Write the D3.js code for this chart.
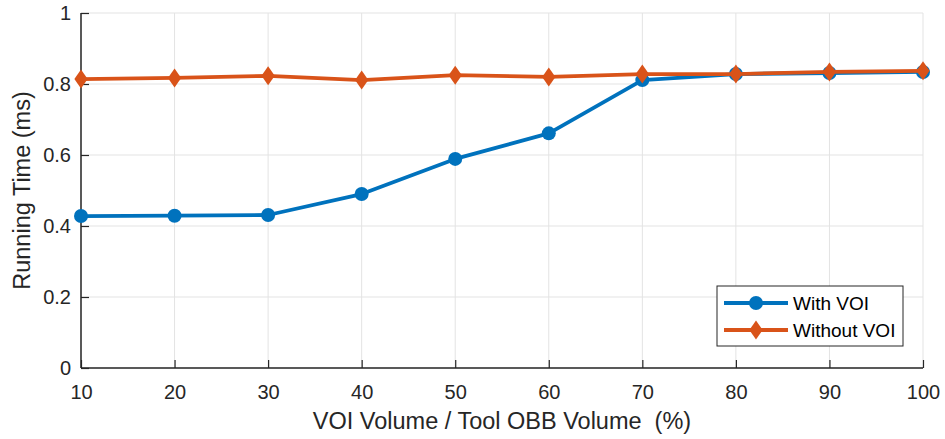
<!DOCTYPE html>
<html>
<head>
<meta charset="utf-8">
<script src="https://cdn.jsdelivr.net/npm/d3@7"></script>
<style>
  html, body { margin: 0; padding: 0; background: #fff; }
  svg { display: block; font-family: "Liberation Sans", Arial, Helvetica, sans-serif; }
</style>
</head>
<body>
<svg id="chart" width="945" height="439"></svg>
<script>
// Data
const ratios = [10, 20, 30, 40, 50, 60, 70, 80, 90, 100];
const withVOI = [0.428, 0.429, 0.431, 0.490, 0.589, 0.661, 0.811, 0.828, 0.831, 0.834];
const withoutVOI = [0.814, 0.817, 0.823, 0.811, 0.825, 0.820, 0.828, 0.828, 0.834, 0.837];
const xTicks = [10, 20, 30, 40, 50, 60, 70, 80, 90, 100];
const yTicks = [0, 0.2, 0.4, 0.6, 0.8, 1];
const seriesNames = ["With VOI", "Without VOI"];
const seriesColors = ["#0072BD", "#D95319"];

const svg = d3.select("#chart");
const m = { left: 81, right: 22, top: 13, bottom: 71 };
const W = 945, H = 439;
const x = d3.scaleLinear().domain([10, 100]).range([m.left, W - m.right]);
const y = d3.scaleLinear().domain([0, 1]).range([H - m.bottom, m.top]);

// Grid
const grid = svg.append("g");
grid.selectAll(".gx").data(xTicks).join("line")
  .attr("x1", d => x(d)).attr("x2", d => x(d))
  .attr("y1", y(0)).attr("y2", y(1))
  .attr("stroke", "#e3e3e3").attr("stroke-width", 1);
grid.selectAll(".gy").data(yTicks).join("line")
  .attr("x1", x(10)).attr("x2", x(100))
  .attr("y1", d => y(d)).attr("y2", d => y(d))
  .attr("stroke", "#e3e3e3").attr("stroke-width", 1);

// Axes
const xAxis = d3.axisBottom(x).tickValues(xTicks).tickSize(-8).tickPadding(17).tickFormat(d3.format("d"));
const yAxis = d3.axisLeft(y).tickValues(yTicks).tickSize(-8).tickPadding(10)
  .tickFormat(d => d === 0 || d === 1 ? String(d) : d3.format(".1f")(d));

const gx = svg.append("g").attr("transform", `translate(0,${y(0)})`).call(xAxis);
const gy = svg.append("g").attr("transform", `translate(${x(10)},0)`).call(yAxis);
[gx, gy].forEach(g => {
  g.select(".domain").attr("stroke", "#262626").attr("stroke-width", 1.5);
  g.selectAll(".tick line").attr("stroke", "#262626").attr("stroke-width", 1.2);
  g.selectAll(".tick text").attr("fill", "#262626").attr("font-size", 20)
    .attr("font-family", "'Liberation Sans', Arial, sans-serif");
});
gy.select(".domain").attr("d", `M0,${y(0)}V${y(1)}`);
gx.select(".domain").attr("d", `M${x(10)},0H${x(100)}`);

// Axis titles
svg.append("text")
  .attr("x", (x(10) + x(100)) / 2).attr("y", 429)
  .attr("text-anchor", "middle").attr("font-size", 23.5).attr("fill", "#262626")
  .attr("xml:space", "preserve")
  .text("VOI Volume / Tool OBB Volume  (%)");
svg.append("text")
  .attr("transform", `translate(30,${(y(0) + y(1)) / 2}) rotate(-90)`)
  .attr("text-anchor", "middle").attr("font-size", 23.5).attr("fill", "#262626")
  .text("Running Time (ms)");

// Series
const series = [withVOI, withoutVOI];
const line = d3.line().x((d, i) => x(ratios[i])).y(d => y(d));
const diamond = (cx, cy, r) => `M${cx},${cy - r}L${cx + r * 0.7},${cy}L${cx},${cy + r}L${cx - r * 0.7},${cy}Z`;

series.forEach((vals, s) => {
  const g = svg.append("g");
  g.append("path").datum(vals).attr("d", line)
    .attr("fill", "none").attr("stroke", seriesColors[s]).attr("stroke-width", 3.8)
    .attr("stroke-linejoin", "round");
  if (s === 0) {
    g.selectAll("circle").data(vals).join("circle")
      .attr("cx", (d, i) => x(ratios[i])).attr("cy", d => y(d)).attr("r", 7)
      .attr("fill", seriesColors[s]);
  } else {
    g.selectAll("path.mk").data(vals).join("path").attr("class", "mk")
      .attr("d", (d, i) => diamond(x(ratios[i]), y(d), 9.5))
      .attr("fill", seriesColors[s]);
  }
});

// Legend
const lg = svg.append("g").attr("transform", "translate(717,286)");
lg.append("rect").attr("width", 186).attr("height", 60)
  .attr("fill", "#fff").attr("stroke", "#262626").attr("stroke-width", 1);
seriesNames.forEach((name, i) => {
  const cy = 17 + i * 27;
  lg.append("line").attr("x1", 7).attr("x2", 71).attr("y1", cy).attr("y2", cy)
    .attr("stroke", seriesColors[i]).attr("stroke-width", 3.8);
  if (i === 0) {
    lg.append("circle").attr("cx", 39).attr("cy", cy).attr("r", 7).attr("fill", seriesColors[i]);
  } else {
    lg.append("path").attr("d", diamond(39, cy, 9.5)).attr("fill", seriesColors[i]);
  }
  lg.append("text").attr("x", 76).attr("y", cy + 7).attr("font-size", 19)
    .attr("fill", "#000").text(name);
});
</script>
</body>
</html>
